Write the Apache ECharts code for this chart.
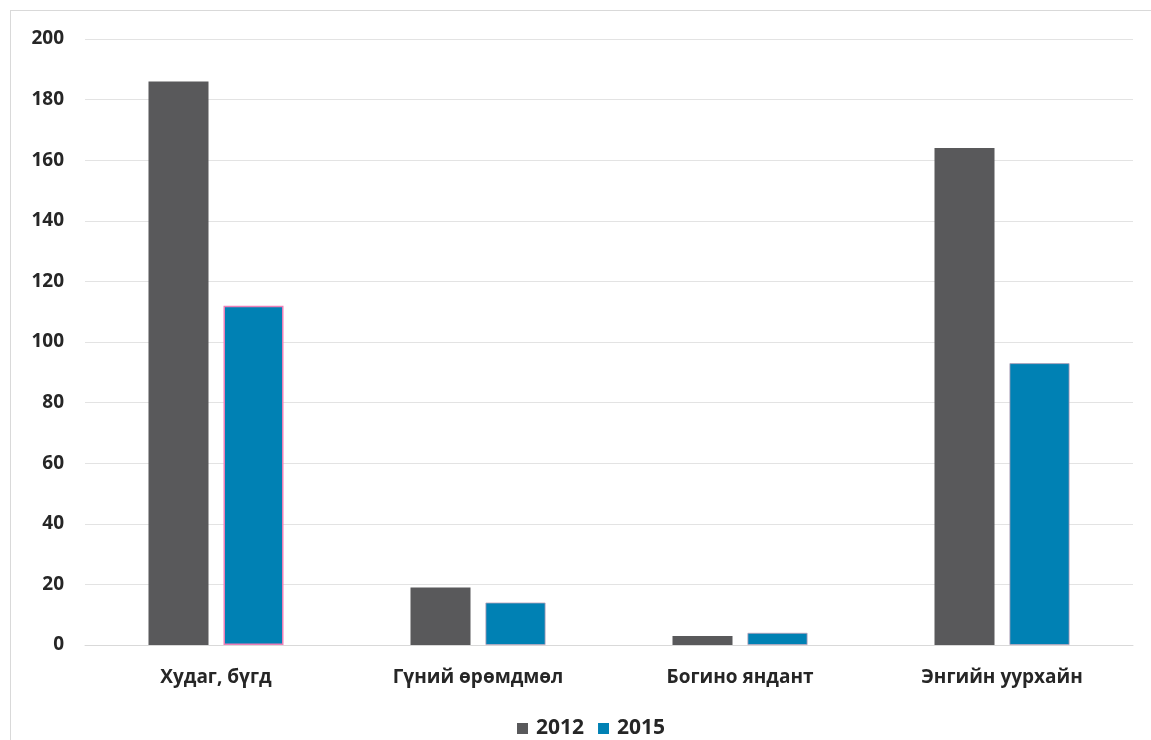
<!DOCTYPE html>
<html><head><meta charset="utf-8">
<script src="https://cdn.jsdelivr.net/npm/echarts@6/dist/echarts.min.js"></script>
<style>
html,body{margin:0;padding:0;background:#fff;}
#frame{position:absolute;left:10px;top:10px;width:1160px;height:760px;border:1.5px solid #d9d9d9;box-sizing:border-box;}
#c{position:absolute;left:0;top:0;width:1151px;height:740px;}
</style></head>
<body><div id="frame"></div><div id="c"></div>
<script>
const categories = ["Худаг, бүгд", "Гүний өрөмдмөл", "Богино яндант", "Энгийн уурхайн"];
const series2012 = [186, 19, 3, 164];
const series2015 = [112, 14, 4, 93];
const seriesNames = ["2012", "2015"];

const chart = echarts.init(document.getElementById('c'));
const font = "'Open Sans', 'DejaVu Sans', sans-serif";
chart.setOption({
  animation: false,
  grid: {left: 85, right: 18, top: 39, bottom: 95},
  legend: {
    data: seriesNames, top: 713, left: 512, itemWidth: 11, itemHeight: 11, itemGap: 14,
    icon: 'rect',
    itemStyle: {borderWidth: 0},
    textStyle: {fontFamily: font, fontWeight: 'bold', fontSize: 21, color: '#262626', padding: [0, 0, 0, 3]}
  },
  xAxis: {
    type: 'category', data: categories,
    axisLine: {lineStyle: {color: '#d9d9d9', width: 1}},
    axisTick: {show: false},
    axisLabel: {fontFamily: font, fontWeight: 'bold', fontSize: 19, color: '#262626', margin: 23}
  },
  yAxis: {
    type: 'value', min: 0, max: 200, interval: 20,
    axisLine: {show: false}, axisTick: {show: false},
    splitLine: {lineStyle: {color: '#e3e3e3', width: 1}},
    axisLabel: {fontFamily: font, fontWeight: 'bold', fontSize: 19, color: '#262626', margin: 21}
  },
  series: [
    {name: seriesNames[0], type: 'bar', data: series2012, barWidth: 60, barGap: '25%',
     itemStyle: {color: '#59595b'}},
    {name: seriesNames[1], type: 'bar', data: series2015.map((v, i) => i === 0 ?
       {value: v, itemStyle: {borderColor: '#ec7fb8', borderWidth: 1.5}} : v),
     barWidth: 60,
     itemStyle: {color: '#0081b4', borderColor: '#b8a0b8', borderWidth: 0.8}}
  ]
});
</script></body></html>
